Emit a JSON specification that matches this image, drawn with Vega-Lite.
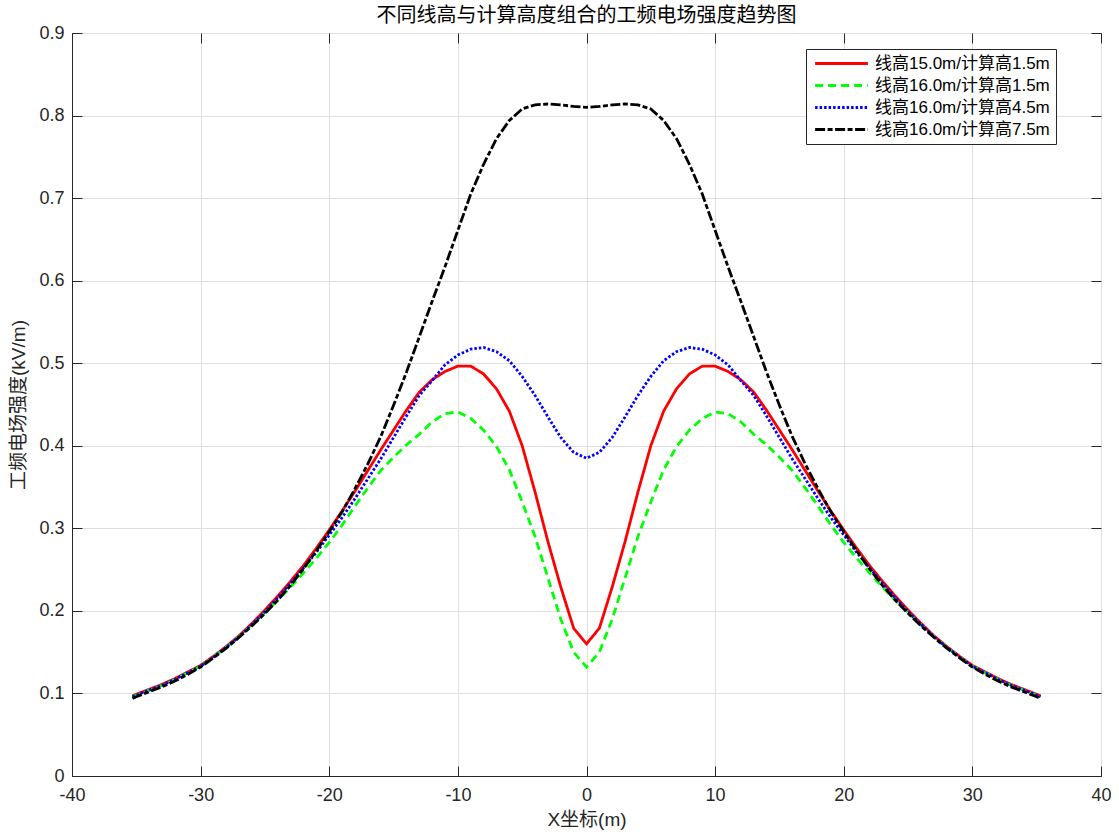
{
  "$schema": "https://vega.github.io/schema/vega-lite/v6.json",
  "width": 1029,
  "height": 743,
  "autosize": {"type": "none"},
  "padding": {"left": 72, "top": 33, "right": 18, "bottom": 58},
  "background": "white",
  "config": {
    "view": {"stroke": "#262626", "strokeWidth": 1},
    "font": "Liberation Sans, Noto Sans CJK SC",
    "axis": {
      "domainColor": "#262626", "tickColor": "#262626", "labelColor": "#262626", "titleColor": "#262626",
      "gridColor": "#dfdfdf", "gridWidth": 1, "labelFontSize": 18, "titleFontSize": 19, "titleFontWeight": "normal",
      "tickSize": -10, "labelFont": "Liberation Sans, Noto Sans CJK SC", "titleFont": "Liberation Sans, Noto Sans CJK SC"
    },
    "legend": {
      "symbolType": "M-6.6,0H6.6", "symbolSize": 64, "symbolStrokeWidth": 2.8, "symbolOffset": 21,
      "labelFontSize": 17, "labelFont": "Liberation Sans, Noto Sans CJK SC", "labelColor": "#000",
      "strokeColor": "#262626", "fillColor": "white", "padding": 6, "rowPadding": 4, "labelOffset": 25, "labelLimit": 400
    }
  },
  "title": {"text": "不同线高与计算高度组合的工频电场强度趋势图", "fontSize": 20, "fontWeight": "normal", "font": "Liberation Sans, Noto Sans CJK SC", "color": "#000", "offset": -2},
  "data": {"values": [
    {"x": -35.3, "a": 0.097, "b": 0.096, "c": 0.096, "d": 0.094},
    {"x": -35, "a": 0.099, "b": 0.098, "c": 0.098, "d": 0.096},
    {"x": -34, "a": 0.105, "b": 0.104, "c": 0.104, "d": 0.102},
    {"x": -33, "a": 0.111, "b": 0.110, "c": 0.110, "d": 0.108},
    {"x": -32, "a": 0.118, "b": 0.117, "c": 0.117, "d": 0.115},
    {"x": -31, "a": 0.126, "b": 0.125, "c": 0.125, "d": 0.123},
    {"x": -30, "a": 0.134, "b": 0.133, "c": 0.133, "d": 0.132},
    {"x": -29, "a": 0.145, "b": 0.144, "c": 0.144, "d": 0.143},
    {"x": -28, "a": 0.157, "b": 0.156, "c": 0.156, "d": 0.155},
    {"x": -27, "a": 0.170, "b": 0.169, "c": 0.169, "d": 0.168},
    {"x": -26, "a": 0.185, "b": 0.183, "c": 0.184, "d": 0.182},
    {"x": -25, "a": 0.201, "b": 0.198, "c": 0.199, "d": 0.197},
    {"x": -24, "a": 0.218, "b": 0.213, "c": 0.216, "d": 0.213},
    {"x": -23, "a": 0.236, "b": 0.229, "c": 0.234, "d": 0.231},
    {"x": -22, "a": 0.255, "b": 0.246, "c": 0.252, "d": 0.251},
    {"x": -21, "a": 0.276, "b": 0.264, "c": 0.271, "d": 0.273},
    {"x": -20, "a": 0.298, "b": 0.283, "c": 0.292, "d": 0.296},
    {"x": -19, "a": 0.321, "b": 0.304, "c": 0.313, "d": 0.320},
    {"x": -18, "a": 0.345, "b": 0.327, "c": 0.336, "d": 0.348},
    {"x": -17, "a": 0.370, "b": 0.349, "c": 0.360, "d": 0.378},
    {"x": -16, "a": 0.395, "b": 0.370, "c": 0.384, "d": 0.411},
    {"x": -15, "a": 0.419, "b": 0.386, "c": 0.410, "d": 0.449},
    {"x": -14, "a": 0.443, "b": 0.401, "c": 0.436, "d": 0.489},
    {"x": -13, "a": 0.465, "b": 0.414, "c": 0.461, "d": 0.532},
    {"x": -12, "a": 0.480, "b": 0.429, "c": 0.479, "d": 0.575},
    {"x": -11, "a": 0.490, "b": 0.439, "c": 0.498, "d": 0.617},
    {"x": -10, "a": 0.4965, "b": 0.441, "c": 0.510, "d": 0.661},
    {"x": -9, "a": 0.4965, "b": 0.433, "c": 0.517, "d": 0.705},
    {"x": -8, "a": 0.487, "b": 0.419, "c": 0.519, "d": 0.741},
    {"x": -7, "a": 0.469, "b": 0.399, "c": 0.514, "d": 0.772},
    {"x": -6, "a": 0.442, "b": 0.371, "c": 0.503, "d": 0.794},
    {"x": -5, "a": 0.400, "b": 0.332, "c": 0.484, "d": 0.808},
    {"x": -4, "a": 0.344, "b": 0.290, "c": 0.461, "d": 0.813},
    {"x": -3, "a": 0.284, "b": 0.240, "c": 0.435, "d": 0.814},
    {"x": -2, "a": 0.229, "b": 0.190, "c": 0.410, "d": 0.813},
    {"x": -1, "a": 0.179, "b": 0.150, "c": 0.392, "d": 0.811},
    {"x": 0, "a": 0.160, "b": 0.132, "c": 0.385, "d": 0.810},
    {"x": 1, "a": 0.179, "b": 0.150, "c": 0.392, "d": 0.811},
    {"x": 2, "a": 0.229, "b": 0.190, "c": 0.410, "d": 0.813},
    {"x": 3, "a": 0.284, "b": 0.240, "c": 0.435, "d": 0.814},
    {"x": 4, "a": 0.344, "b": 0.290, "c": 0.461, "d": 0.813},
    {"x": 5, "a": 0.400, "b": 0.332, "c": 0.484, "d": 0.808},
    {"x": 6, "a": 0.442, "b": 0.371, "c": 0.503, "d": 0.794},
    {"x": 7, "a": 0.469, "b": 0.399, "c": 0.514, "d": 0.772},
    {"x": 8, "a": 0.487, "b": 0.419, "c": 0.519, "d": 0.741},
    {"x": 9, "a": 0.4965, "b": 0.433, "c": 0.517, "d": 0.705},
    {"x": 10, "a": 0.4965, "b": 0.441, "c": 0.510, "d": 0.661},
    {"x": 11, "a": 0.490, "b": 0.439, "c": 0.498, "d": 0.617},
    {"x": 12, "a": 0.480, "b": 0.429, "c": 0.479, "d": 0.575},
    {"x": 13, "a": 0.465, "b": 0.414, "c": 0.461, "d": 0.532},
    {"x": 14, "a": 0.443, "b": 0.401, "c": 0.436, "d": 0.489},
    {"x": 15, "a": 0.419, "b": 0.386, "c": 0.410, "d": 0.449},
    {"x": 16, "a": 0.395, "b": 0.370, "c": 0.384, "d": 0.411},
    {"x": 17, "a": 0.370, "b": 0.349, "c": 0.360, "d": 0.378},
    {"x": 18, "a": 0.345, "b": 0.327, "c": 0.336, "d": 0.348},
    {"x": 19, "a": 0.321, "b": 0.304, "c": 0.313, "d": 0.320},
    {"x": 20, "a": 0.298, "b": 0.283, "c": 0.292, "d": 0.296},
    {"x": 21, "a": 0.276, "b": 0.264, "c": 0.271, "d": 0.273},
    {"x": 22, "a": 0.255, "b": 0.246, "c": 0.252, "d": 0.251},
    {"x": 23, "a": 0.236, "b": 0.229, "c": 0.234, "d": 0.231},
    {"x": 24, "a": 0.218, "b": 0.213, "c": 0.216, "d": 0.213},
    {"x": 25, "a": 0.201, "b": 0.198, "c": 0.199, "d": 0.197},
    {"x": 26, "a": 0.185, "b": 0.183, "c": 0.184, "d": 0.182},
    {"x": 27, "a": 0.170, "b": 0.169, "c": 0.169, "d": 0.168},
    {"x": 28, "a": 0.157, "b": 0.156, "c": 0.156, "d": 0.155},
    {"x": 29, "a": 0.145, "b": 0.144, "c": 0.144, "d": 0.143},
    {"x": 30, "a": 0.134, "b": 0.133, "c": 0.133, "d": 0.132},
    {"x": 31, "a": 0.126, "b": 0.125, "c": 0.125, "d": 0.123},
    {"x": 32, "a": 0.118, "b": 0.117, "c": 0.117, "d": 0.115},
    {"x": 33, "a": 0.111, "b": 0.110, "c": 0.110, "d": 0.108},
    {"x": 34, "a": 0.105, "b": 0.104, "c": 0.104, "d": 0.102},
    {"x": 35, "a": 0.099, "b": 0.098, "c": 0.098, "d": 0.096},
    {"x": 35.3, "a": 0.097, "b": 0.096, "c": 0.096, "d": 0.094}
  ]},
  "transform": [{"fold": ["a", "b", "c", "d"], "as": ["series", "E"]}],
  "layer": [
    {
      "mark": {"type": "line", "strokeWidth": 2.8},
      "encoding": {
        "x": {"field": "x", "type": "quantitative", "scale": {"domain": [-40, 40], "nice": false, "zero": false},
          "axis": {"orient": "bottom", "values": [-40, -30, -20, -10, 0, 10, 20, 30, 40], "labelExpr": "'' + datum.value", "labelPadding": 20, "title": "X坐标(m)", "titleY": 34, "grid": true, "labelFlush": false}},
        "y": {"field": "E", "type": "quantitative", "scale": {"domain": [0, 0.9], "nice": false},
          "axis": {"orient": "left", "values": [0, 0.1, 0.2, 0.3, 0.4, 0.5, 0.6, 0.7, 0.8, 0.9], "format": "~g", "labelPadding": 18, "title": "工频电场强度(kV/m)", "titleX": -44, "grid": true}},
        "color": {"field": "series", "type": "nominal", "scale": {"domain": ["a", "b", "c", "d"], "range": ["#ff0000", "#00ff00", "#0000ff", "#000000"]},
          "legend": {"orient": "none", "legendX": 734, "legendY": 16, "title": null, "labelExpr": "datum.label == 'a' ? '线高15.0m/计算高1.5m' : datum.label == 'b' ? '线高16.0m/计算高1.5m' : datum.label == 'c' ? '线高16.0m/计算高4.5m' : '线高16.0m/计算高7.5m'"}},
        "strokeDash": {"field": "series", "type": "nominal", "scale": {"domain": ["a", "b", "c", "d"], "range": [[1, 0], [8, 5], [2.5, 2], [10, 2.5, 5, 2.5]]},
          "legend": {"orient": "none", "legendX": 734, "legendY": 16, "title": null, "labelExpr": "datum.label == 'a' ? '线高15.0m/计算高1.5m' : datum.label == 'b' ? '线高16.0m/计算高1.5m' : datum.label == 'c' ? '线高16.0m/计算高4.5m' : '线高16.0m/计算高7.5m'"}}
      }
    },
    {
      "mark": {"type": "line", "opacity": 0},
      "encoding": {
        "x": {"field": "x", "type": "quantitative", "axis": {"orient": "top", "values": [-40, -30, -20, -10, 0, 10, 20, 30, 40], "labels": false, "grid": false, "domain": false, "title": null}},
        "y": {"field": "E", "type": "quantitative", "axis": {"orient": "right", "values": [0, 0.1, 0.2, 0.3, 0.4, 0.5, 0.6, 0.7, 0.8, 0.9], "labels": false, "grid": false, "domain": false, "title": null}},
        "detail": {"field": "series"}
      }
    }
  ],
  "resolve": {"axis": {"x": "independent", "y": "independent"}}
}
